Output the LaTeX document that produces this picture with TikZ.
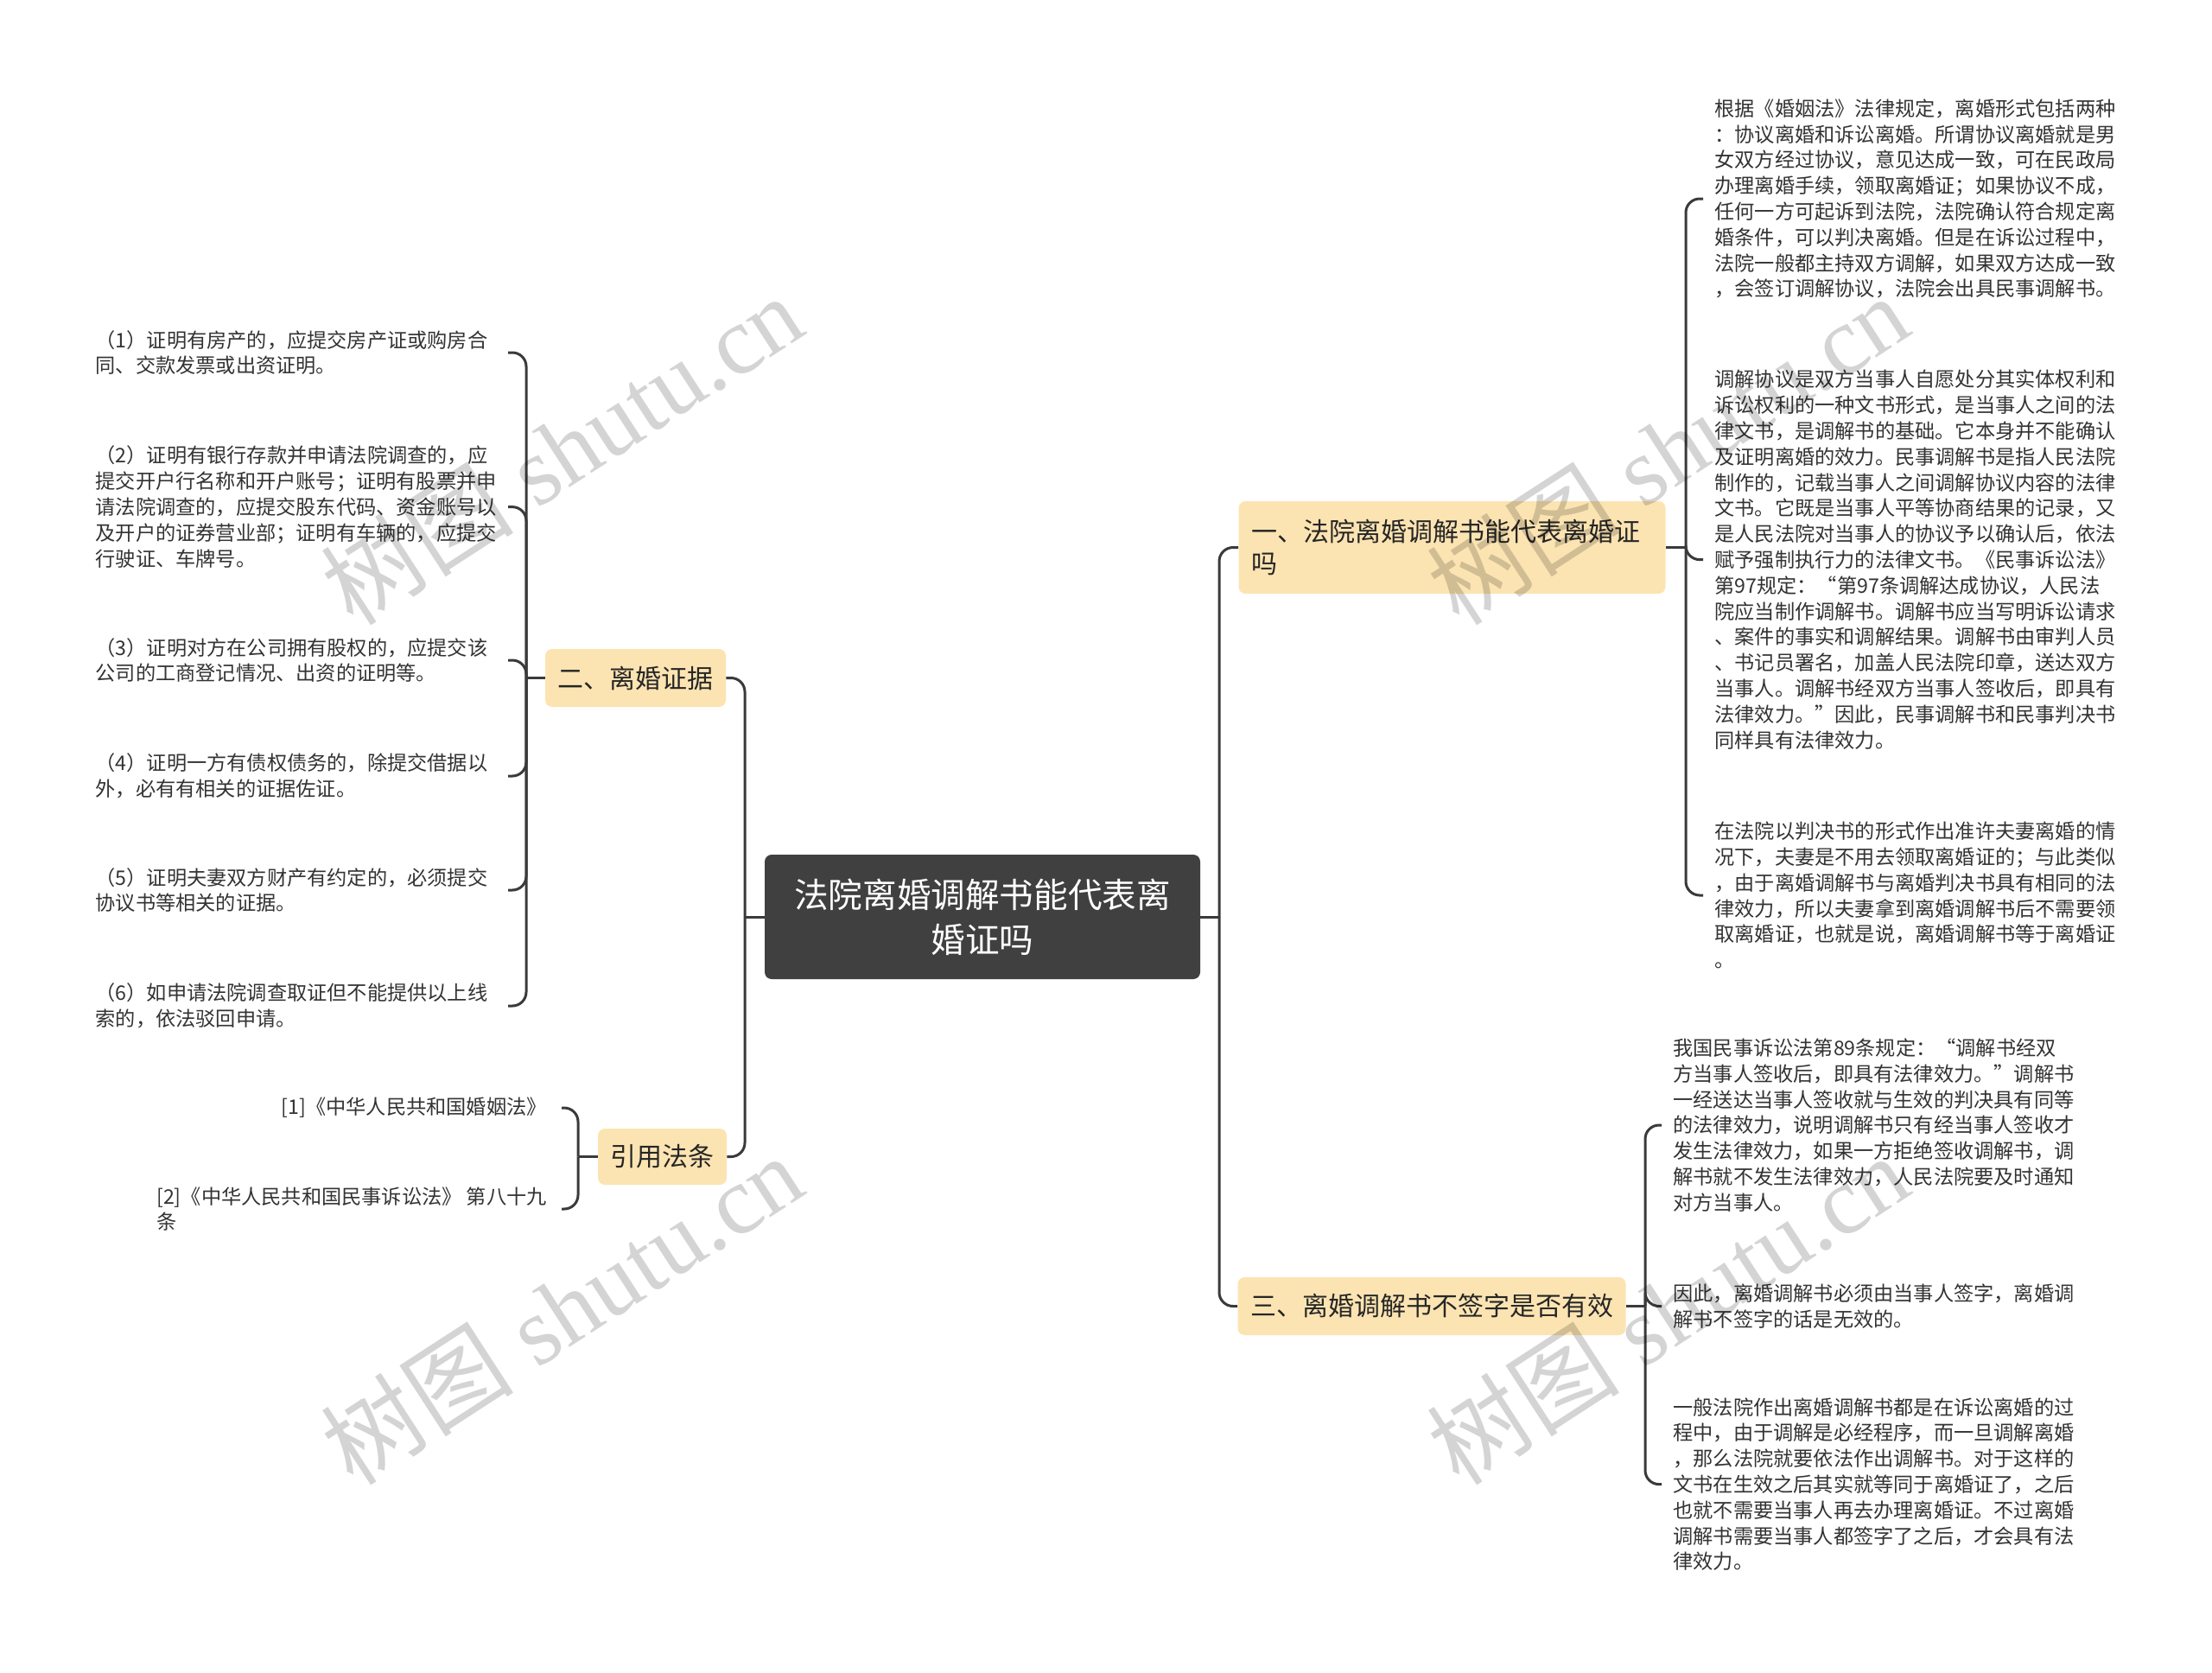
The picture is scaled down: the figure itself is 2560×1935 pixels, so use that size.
\documentclass[tikz,border=0pt]{standalone}
\usepackage{fontspec}
\setmainfont{Noto Sans CJK SC}
\newfontfamily\wmserif{Liberation Serif}
\newfontfamily\wmcjk{Noto Sans CJK SC}
\definecolor{rootfill}{HTML}{404040}
\definecolor{topicfill}{HTML}{FCE4B2}
\definecolor{linec}{HTML}{3A3A3A}
\definecolor{leaftext}{HTML}{333333}
\definecolor{topictext}{HTML}{262626}
\tikzset{
  rootnode/.style={fill=rootfill, text=white, rounded corners=4pt, align=center,
    font=\fontsize{19.8pt}{26pt}\selectfont, minimum width=252pt, minimum height=72pt, inner sep=0pt},
  topic/.style={fill=topicfill, text=topictext, rounded corners=4pt,
    font=\fontsize{15pt}{18.8pt}\selectfont, inner xsep=7.25pt, inner ysep=0pt},
  leafL/.style={anchor=east, text=leaftext, align=left, text width=238.5pt, inner sep=0pt,
    font=\fontsize{11.6pt}{14.9pt}\selectfont},
  leafR/.style={anchor=west, text=leaftext, align=left, inner xsep=6.5pt, inner ysep=0pt,
    font=\fontsize{11.6pt}{14.9pt}\selectfont},
  leafC/.style={anchor=east, text=leaftext, align=left, inner xsep=8.5pt, inner ysep=0pt,
    font=\fontsize{11.6pt}{14.9pt}\selectfont},
  conn/.style={draw=linec, line width=1.5pt, rounded corners=8pt},
  wm/.style={text=black, text opacity=0.17, rotate=33, inner sep=0pt,
    font=\wmserif\fontsize{56pt}{56pt}\selectfont}
}
\newcommand{\wmtext}{{\wmcjk 树图} shutu.cn}
\begin{document}
\begin{tikzpicture}[x=0.5pt,y=-0.5pt]
\useasboundingbox[fill=white] (0,0) rectangle (2560,1935);

% main nodes
\node[rootnode] (root) at (1137,1061) {法院离婚调解书能代表离\\婚证吗};
\node[topic, minimum height=33.5pt] (t2) at (735.5,784.5) {二、离婚证据};
\node[topic, minimum height=32.5pt] (t4) at (766.5,1338.5) {引用法条};
\node[topic, minimum height=53.5pt, text width=232.5pt, align=left] (t1) at (1680.5,633.5) {一、法院离婚调解书能代表离婚证\\吗};
\node[topic, minimum height=33.5pt] (t3) at (1657,1511.5) {三、离婚调解书不签字是否有效};

% left leaves
\node[leafL] (l1) at (588,408) {（1）证明有房产的，应提交房产证或购房合\\同、交款发票或出资证明。};
\node[leafL] (l2) at (588,586.6) {（2）证明有银行存款并申请法院调查的，应\\提交开户行名称和开户账号；证明有股票并申\\请法院调查的，应提交股东代码、资金账号以\\及开户的证券营业部；证明有车辆的，应提交\\行驶证、车牌号。};
\node[leafL] (l3) at (588,764) {（3）证明对方在公司拥有股权的，应提交该\\公司的工商登记情况、出资的证明等。};
\node[leafL] (l4) at (588,898) {（4）证明一方有债权债务的，除提交借据以\\外，必有有相关的证据佐证。};
\node[leafL] (l5) at (588,1030) {（5）证明夫妻双方财产有约定的，必须提交\\协议书等相关的证据。};
\node[leafL] (l6) at (588,1164) {（6）如申请法院调查取证但不能提供以上线\\索的，依法驳回申请。};

% citations
\node[leafC] (c1) at (650,1282) {[1]《中华人民共和国婚姻法》};
\node[leafC] (c2) at (650,1399) {[2]《中华人民共和国民事诉讼法》 第八十九\\条};

% right leaves under 1
\node[leafR] (ra) at (1971,230) {根据《婚姻法》法律规定，离婚形式包括两种\\：协议离婚和诉讼离婚。所谓协议离婚就是男\\女双方经过协议，意见达成一致，可在民政局\\办理离婚手续，领取离婚证；如果协议不成，\\任何一方可起诉到法院，法院确认符合规定离\\婚条件，可以判决离婚。但是在诉讼过程中，\\法院一般都主持双方调解，如果双方达成一致\\，会签订调解协议，法院会出具民事调解书。};
\node[leafR] (rb) at (1971,647.6) {调解协议是双方当事人自愿处分其实体权利和\\诉讼权利的一种文书形式，是当事人之间的法\\律文书，是调解书的基础。它本身并不能确认\\及证明离婚的效力。民事调解书是指人民法院\\制作的，记载当事人之间调解协议内容的法律\\文书。它既是当事人平等协商结果的记录，又\\是人民法院对当事人的协议予以确认后，依法\\赋予强制执行力的法律文书。《民事诉讼法》\\第97规定：“第97条调解达成协议，人民法\\院应当制作调解书。调解书应当写明诉讼请求\\、案件的事实和调解结果。调解书由审判人员\\、书记员署名，加盖人民法院印章，送达双方\\当事人。调解书经双方当事人签收后，即具有\\法律效力。”因此，民事调解书和民事判决书\\同样具有法律效力。};
\node[leafR] (rc) at (1971,1036) {在法院以判决书的形式作出准许夫妻离婚的情\\况下，夫妻是不用去领取离婚证的；与此类似\\，由于离婚调解书与离婚判决书具有相同的法\\律效力，所以夫妻拿到离婚调解书后不需要领\\取离婚证，也就是说，离婚调解书等于离婚证\\。};

% right leaves under 3
\node[leafR] (rd) at (1923,1302) {我国民事诉讼法第89条规定：“调解书经双\\方当事人签收后，即具有法律效力。”调解书\\一经送达当事人签收就与生效的判决具有同等\\的法律效力，说明调解书只有经当事人签收才\\发生法律效力，如果一方拒绝签收调解书，调\\解书就不发生法律效力，人民法院要及时通知\\对方当事人。};
\node[leafR] (re) at (1923,1511.5) {因此，离婚调解书必须由当事人签字，离婚调\\解书不签字的话是无效的。};
\node[leafR] (rf) at (1923,1717.6) {一般法院作出离婚调解书都是在诉讼离婚的过\\程中，由于调解是必经程序，而一旦调解离婚\\，那么法院就要依法作出调解书。对于这样的\\文书在生效之后其实就等同于离婚证了，之后\\也就不需要当事人再去办理离婚证。不过离婚\\调解书需要当事人都签字了之后，才会具有法\\律效力。};

% junctions
\coordinate (jl) at (862,1061);
\coordinate (jr) at (1411,1061);
\coordinate (j2) at (609,784.5);
\coordinate (j4) at (669,1338.5);
\coordinate (j1) at (1951,633.5);
\coordinate (j3) at (1904,1511.5);

% connectors
\draw[conn] (root.west) -- (jl);
\draw[conn] (jl) |- (t2.east);
\draw[conn] (jl) |- (t4.east);
\draw[conn] (root.east) -- (jr);
\draw[conn] (jr) |- (t1.west);
\draw[conn] (jr) |- (t3.west);

\draw[conn] (t2.west) -- (j2);
\foreach \n in {l1,l2,l3,l4,l5,l6} { \draw[conn] (j2) |- (\n.east); }
\draw[conn] (t4.west) -- (j4);
\draw[conn] (j4) |- (c1.east);
\draw[conn] (j4) |- (c2.east);

\draw[conn] (t1.east) -- (j1);
\foreach \n in {ra,rb,rc} { \draw[conn] (j1) |- (\n.west); }
\draw[conn] (t3.east) -- (j3);
\foreach \n in {rd,re,rf} { \draw[conn] (j3) |- (\n.west); }

% watermarks
\node[wm] (w1) at (650,520) {\wmtext};
\node[wm] (w2) at (1930,520) {\wmtext};
\node[wm] (w3) at (650,1515) {\wmtext};
\node[wm] (w4) at (1930,1515) {\wmtext};
\end{tikzpicture}
\end{document}
